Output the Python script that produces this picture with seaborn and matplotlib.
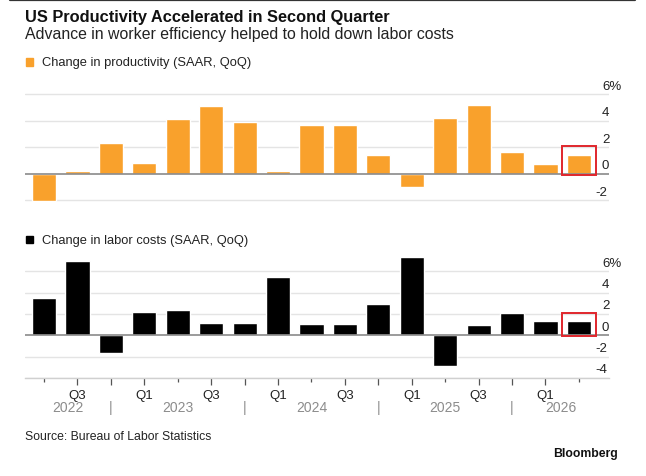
import matplotlib
matplotlib.use("Agg")
import matplotlib.pyplot as plt
import matplotlib.transforms as mtransforms
from matplotlib.patches import Rectangle
import seaborn as sns
import pandas as pd

sns.set_theme(style="white")
plt.rcParams["font.family"] = ["Liberation Sans", "DejaVu Sans"]

quarters = ["2022Q2", "2022Q3", "2022Q4", "2023Q1", "2023Q2", "2023Q3", "2023Q4",
            "2024Q1", "2024Q2", "2024Q3", "2024Q4", "2025Q1", "2025Q2", "2025Q3",
            "2025Q4", "2026Q1", "2026Q2"]
productivity = [-2.1, 0.2, 2.3, 0.8, 4.1, 5.1, 3.9, 0.2, 3.7, 3.7, 1.4, -1.0,
                4.2, 5.2, 1.6, 0.7, 1.4]
labor_costs = [3.5, 7.0, -1.7, 2.2, 2.4, 1.2, 1.2, 5.5, 1.1, 1.1, 2.9, 7.3,
               -2.9, 1.0, 2.1, 1.3, 1.3]
prod_ticks = [-2, 0, 2, 4, 6]
cost_ticks = [-4, -2, 0, 2, 4, 6]

ORANGE = "#F9A12C"
GRID = "#e4e4e4"
ZERO = "#8a8a8a"
RED = "#e0262c"

df = pd.DataFrame({"quarter": quarters, "productivity": productivity,
                   "labor_costs": labor_costs})

W, H = 646, 477
fig = plt.figure(figsize=(W / 100, H / 100), dpi=100)


def fx(px):
    return px / W


def fy(py):
    return 1 - py / H


ax1 = fig.add_axes([fx(25), fy(209), fx(584), (209 - 88.4) / H])
ax2 = fig.add_axes([fx(25), fy(379), fx(584), (379 - 255.2) / H])

sns.barplot(data=df, x="quarter", y="productivity", color=ORANGE, width=0.72,
            saturation=1, ax=ax1, zorder=3)
sns.barplot(data=df, x="quarter", y="labor_costs", color="black", width=0.72,
            saturation=1, ax=ax2, zorder=3)

ax1.set_ylim(-2.6, 6.5)
ax2.set_ylim(-4, 7.6)


def style_panel(ax, ticks):
    ax.set_xlim(-0.57, len(quarters) - 0.1)
    for sp in ax.spines.values():
        sp.set_visible(False)
    ax.set_yticks([])
    ax.set_ylabel("")
    ax.set_xlabel("")
    for t in ticks:
        ax.axhline(t, color=ZERO if t == 0 else GRID,
                   lw=1.2 if t == 0 else 1.0, zorder=1 if t else 4)
    trans = mtransforms.offset_copy(ax.get_yaxis_transform(), fig=fig,
                                    y=5.5, units="dots")
    for t in ticks:
        lab = f"{t}%" if t == max(ticks) else str(t)
        xpos = 0.976 if t < 0 else 0.988
        ax.text(xpos, t, lab, transform=trans, ha="left", va="baseline",
                fontsize=9.5, color="#222222")


style_panel(ax1, prod_ticks)
style_panel(ax2, cost_ticks)
ax1.set_xticks([])

# bottom axis line and ticks
ax2.spines["bottom"].set_visible(True)
ax2.spines["bottom"].set_color("#d0d0d0")
ax2.spines["bottom"].set_linewidth(1.0)

q_num = [int(q[-1]) for q in quarters]
major = [i for i, q in enumerate(q_num) if q in (1, 3, 4)]
minor = [i for i, q in enumerate(q_num) if q == 2]
ax2.set_xticks(major)
ax2.set_xticklabels([f"Q{q_num[i]}" if q_num[i] in (1, 3) else "" for i in major])
ax2.set_xticks(minor, minor=True)
ax2.tick_params(axis="x", which="major", length=5, width=0.9, color="#555555",
                labelsize=9.5, labelcolor="#222222", pad=3, bottom=True)
ax2.tick_params(axis="x", which="minor", length=3, width=0.9, color="#555555",
                bottom=True)

# year row
seps = [i for i, q in enumerate(q_num) if q == 4]
bounds = [ax2.get_xlim()[0]] + seps + [ax2.get_xlim()[1]]
years = sorted(set(q[:4] for q in quarters))
year_y = (379 - 412) / (379 - 255.2)
for k, yr in enumerate(years):
    ax2.text((bounds[k] + bounds[k + 1]) / 2, year_y, yr,
             transform=ax2.get_xaxis_transform(), ha="center", va="baseline",
             fontsize=10, color="#8c8c8c")
for s in seps:
    ax2.text(s, year_y, "|", transform=ax2.get_xaxis_transform(), ha="center",
             va="baseline", fontsize=10, color="#8c8c8c")

# highlight box around latest quarter
last = len(quarters) - 1
ax1.add_patch(Rectangle((last - 0.51, -0.08), 1.02, 2.13, fill=False,
                        edgecolor=RED, lw=1.4, zorder=5, clip_on=False))
ax2.add_patch(Rectangle((last - 0.51, -0.1), 1.02, 2.16, fill=False,
                        edgecolor=RED, lw=1.4, zorder=5, clip_on=False))

# legends
for color, text, py in [(ORANGE, "Change in productivity (SAAR, QoQ)", 66.5),
                        ("black", "Change in labor costs (SAAR, QoQ)", 244)]:
    fig.patches.append(Rectangle((fx(26), fy(py)), fx(7), 7 / H, color=color,
                                 transform=fig.transFigure, figure=fig))
    fig.text(fx(42), fy(py), text, fontsize=9.3, color="#222222", va="baseline")

# titles and notes
fig.text(fx(25), fy(22), "US Productivity Accelerated in Second Quarter",
         fontsize=11.8, weight="bold", color="#111111", va="baseline")
fig.text(fx(25), fy(38.5), "Advance in worker efficiency helped to hold down labor costs",
         fontsize=11.4, color="#222222", va="baseline")
fig.text(fx(25), fy(440), "Source: Bureau of Labor Statistics", fontsize=8.8,
         color="#222222", va="baseline")
fig.text(fx(618), fy(457), "Bloomberg", fontsize=8.8, weight="bold",
         color="#111111", ha="right", va="baseline")
fig.add_artist(plt.Line2D([fx(10), fx(635)], [fy(0.8), fy(0.8)],
                          color="#333333", lw=1.6, transform=fig.transFigure))

fig.savefig("out.png", dpi=100)
